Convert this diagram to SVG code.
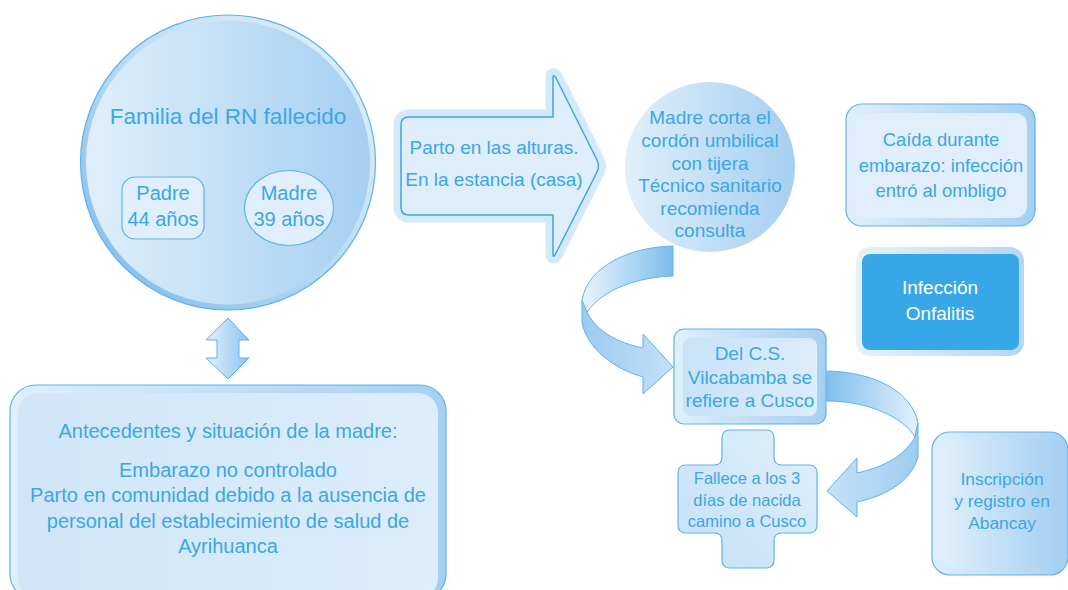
<svg xmlns="http://www.w3.org/2000/svg" width="1068" height="590" viewBox="0 0 1068 590">
<defs>
<linearGradient id="gH" x1="0" y1="0" x2="1" y2="0"><stop offset="0" stop-color="#e0effb"/><stop offset="1" stop-color="#a5cff1"/></linearGradient>
<linearGradient id="gRim" x1="0" y1="1" x2="1" y2="0"><stop offset="0" stop-color="#78b9eb"/><stop offset="0.5" stop-color="#b9dbf5"/><stop offset="1" stop-color="#e8f3fc"/></linearGradient>
<linearGradient id="gDbl" x1="0" y1="0" x2="1" y2="0"><stop offset="0" stop-color="#e3f0fb"/><stop offset="1" stop-color="#8cc4ee"/></linearGradient>
<linearGradient id="gR1a" x1="0" y1="0" x2="1" y2="0"><stop offset="0" stop-color="#eaf4fc"/><stop offset="1" stop-color="#7dbdec"/></linearGradient>
<linearGradient id="gR1b" x1="0" y1="0" x2="1" y2="0"><stop offset="0" stop-color="#9ccbf0"/><stop offset="1" stop-color="#c4e0f6"/></linearGradient>
<linearGradient id="gR2a" x1="0" y1="0" x2="1" y2="0"><stop offset="0" stop-color="#80bfed"/><stop offset="1" stop-color="#e3f0fb"/></linearGradient>
<linearGradient id="gR2b" x1="0" y1="0" x2="1" y2="0"><stop offset="0" stop-color="#c5e1f7"/><stop offset="1" stop-color="#9ecdf0"/></linearGradient>
<linearGradient id="gInLight" x1="0" y1="0" x2="1" y2="0"><stop offset="0" stop-color="#c8e2f7"/><stop offset="1" stop-color="#dcedfb"/></linearGradient>
<linearGradient id="gCross" x1="1" y1="0" x2="0" y2="1"><stop offset="0" stop-color="#e2f0fb"/><stop offset="1" stop-color="#c3e0f6"/></linearGradient>
<linearGradient id="gOutHalo" x1="0" y1="0" x2="1" y2="0"><stop offset="0" stop-color="#e6f2fc"/><stop offset="1" stop-color="#b3d7f3"/></linearGradient>
<linearGradient id="gBotIn" x1="0" y1="0" x2="1" y2="0"><stop offset="0" stop-color="#d0e6f8"/><stop offset="1" stop-color="#dcedfb"/></linearGradient>
</defs>
<style>
text{font-family:"Liberation Sans",Arial,sans-serif;fill:#3aa7e6;text-anchor:middle}
.st{stroke:#5db3ea;stroke-width:1.2}
.rib{stroke:#5db3ea;stroke-width:1;stroke-linejoin:round}
</style>
<rect width="1068" height="590" fill="#ffffff"/>

<g id="connectors">
<path d="M228,318 L249,340 L239,340 L239,358 L249,358 L228,379 L206,358 L217,358 L217,340 L206,340 Z" fill="url(#gDbl)" class="rib"/>
<path d="M673,246 L673,276 C640,277 604,288 587,312 C584,307 582,304 582,300 C588,266 630,247 673,246 Z" fill="url(#gR1a)" class="rib"/>
<path d="M582,300 L582,323 C588,350 615,369 643,377 L643,394 L673,367 L643,334 L643,348 C618,343 596,331 587,312 Z" fill="url(#gR1b)" class="rib"/>
<path d="M827,371 C875,372 912,392 918,423 L915,437 C903,417 868,401 827,401 Z" fill="url(#gR2a)" class="rib"/>
<path d="M918,423 L918,457 C910,485 880,497 857,502 L857,517 L827,491 L857,458 L857,473 C885,467 905,455 915,437 Z" fill="url(#gR2b)" class="rib"/>
</g>

<g id="familia">
<circle cx="228" cy="162.5" r="147.5" fill="url(#gRim)" class="st"/>
<circle cx="228" cy="162.5" r="142" fill="url(#gH)"/>
<text x="228" y="124" font-size="22.5">Familia del RN fallecido</text>
</g>
<g id="padre">
<rect x="122" y="177" width="82" height="62" rx="13" fill="#e0effb" class="st"/>
<text x="163" y="200" font-size="20">Padre</text>
<text x="163" y="226" font-size="20">44 años</text>
</g>
<g id="madre">
<ellipse cx="289" cy="208" rx="44.5" ry="37.5" fill="#e0effb" class="st"/>
<text x="289" y="200" font-size="20">Madre</text>
<text x="289" y="226" font-size="20">39 años</text>
</g>

<g id="parto">
<path d="M409,117 H553 V78 Q553,73 556,78 L597,160 Q600,166 597,172 L556,253 Q553,259 553,254 V215 H409 Q401,215 401,207 V125 Q401,117 409,117 Z" fill="#d5e9f9" stroke="#d5e9f9" stroke-width="15" stroke-linejoin="round"/>
<path d="M409,117 H553 V78 Q553,73 556,78 L597,160 Q600,166 597,172 L556,253 Q553,259 553,254 V215 H409 Q401,215 401,207 V125 Q401,117 409,117 Z" fill="#deeefa" stroke="#3aa7e6" stroke-width="1.5" stroke-linejoin="round"/>
<text x="494" y="154" font-size="19">Parto en las alturas.</text>
<text x="494" y="186" font-size="19">En la estancia (casa)</text>
</g>

<g id="corta">
<circle cx="710" cy="167" r="85" fill="url(#gH)"/>
<text x="710" y="124" font-size="19">Madre corta el</text>
<text x="710" y="147" font-size="19">cordón umbilical</text>
<text x="710" y="169.5" font-size="19">con tijera</text>
<text x="710" y="192" font-size="19">Técnico sanitario</text>
<text x="710" y="214.5" font-size="19">recomienda</text>
<text x="710" y="237" font-size="19">consulta</text>
</g>

<g id="caida">
<rect x="846" y="104" width="189" height="122" rx="16" fill="url(#gH)" class="st"/>
<rect x="854" y="113" width="173" height="105" rx="12" fill="#e0effb"/>
<text x="941" y="146" font-size="18.4">Caída durante</text>
<text x="941" y="172" font-size="18.4">embarazo: infección</text>
<text x="941" y="197" font-size="18.4">entró al ombligo</text>
</g>

<g id="infeccion">
<rect x="856" y="247" width="168" height="109" rx="14" fill="url(#gOutHalo)"/>
<rect x="862" y="254" width="157" height="96" rx="8" fill="#38a7e8"/>
<text x="940" y="294" font-size="19" style="fill:#ffffff">Infección</text>
<text x="940" y="320" font-size="19" style="fill:#ffffff">Onfalitis</text>
</g>

<g id="delcs">
<rect x="674" y="329" width="152" height="95" rx="10" fill="url(#gH)" class="st"/>
<rect x="683" y="338" width="134" height="78" rx="8" fill="url(#gInLight)"/>
<text x="750" y="360" font-size="19">Del C.S.</text>
<text x="750" y="384" font-size="19">Vilcabamba se</text>
<text x="750" y="407" font-size="19">refiere a Cusco</text>
</g>

<g id="fallece">
<path d="M730,430 H766 Q774,430 774,438 V457 Q774,465 782,465 H809 Q817,465 817,473 V525 Q817,533 809,533 H782 Q774,533 774,541 V560 Q774,568 766,568 H730 Q722,568 722,560 V541 Q722,533 714,533 H686 Q678,533 678,525 V473 Q678,465 686,465 H714 Q722,465 722,457 V438 Q722,430 730,430 Z" fill="url(#gCross)" class="st"/>
<text x="747" y="484" font-size="16.5">Fallece a los 3</text>
<text x="747" y="506" font-size="16.5">días de nacida</text>
<text x="747" y="527" font-size="16.5">camino a Cusco</text>
</g>

<g id="inscripcion">
<rect x="932" y="432" width="136" height="143" rx="18" fill="url(#gH)" class="st"/>
<rect x="940" y="439" width="122" height="128" rx="14" fill="url(#gH)"/>
<text x="1002" y="485" font-size="17.4">Inscripción</text>
<text x="1002" y="507" font-size="17.4">y registro en</text>
<text x="1002" y="529" font-size="17.4">Abancay</text>
</g>

<g id="antecedentes">
<rect x="10" y="385" width="436" height="215" rx="26" fill="url(#gH)" class="st"/>
<rect x="18" y="393" width="420" height="205" rx="20" fill="url(#gBotIn)"/>
<text x="228" y="438" font-size="20">Antecedentes y situación de la madre:</text>
<text x="228" y="477" font-size="20">Embarazo no controlado</text>
<text x="228" y="502" font-size="20">Parto en comunidad debido a la ausencia de</text>
<text x="228" y="528" font-size="20">personal del establecimiento de salud de</text>
<text x="228" y="553" font-size="20">Ayrihuanca</text>
</g>
</svg>
